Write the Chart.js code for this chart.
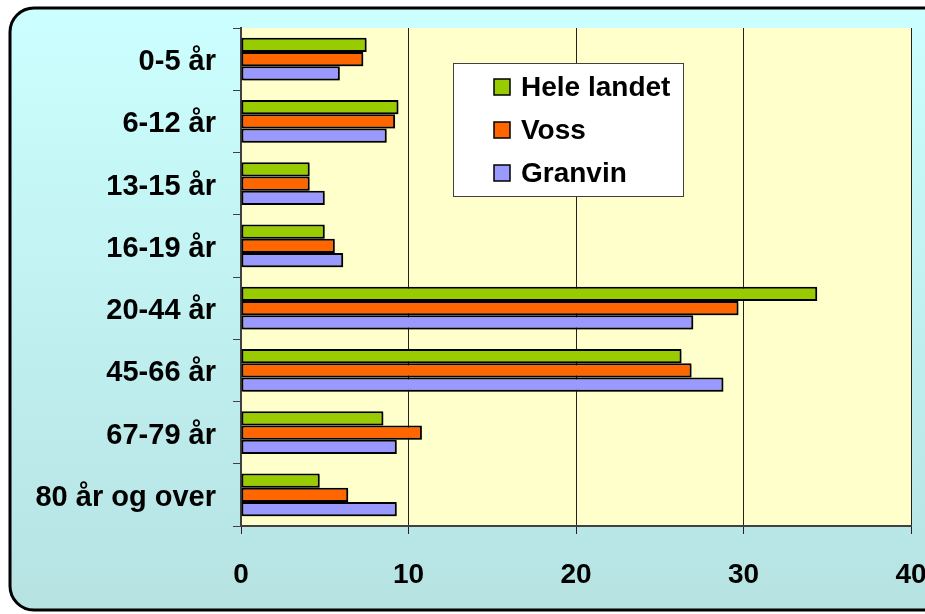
<!DOCTYPE html>
<html>
<head>
<meta charset="utf-8">
<script src="https://cdn.jsdelivr.net/npm/chart.js@4.4.1/dist/chart.umd.min.js"></script>
<style>
  html, body { margin: 0; padding: 0; background: #fff; }
  #wrap { width: 925px; height: 614px; }
</style>
</head>
<body>
<div id="wrap"><canvas id="ageChart" width="925" height="614"></canvas></div>
<script>
// Age groups and shares (%)
const categories = ['0-5 år', '6-12 år', '13-15 år', '16-19 år', '20-44 år', '45-66 år', '67-79 år', '80 år og over'];
const heleLandet = [7.5, 9.4, 4.1, 5.0, 34.4, 26.3, 8.5, 4.7];
const voss = [7.3, 9.2, 4.1, 5.6, 29.7, 26.9, 10.8, 6.4];
const granvin = [5.9, 8.7, 5.0, 6.1, 27.0, 28.8, 9.3, 9.3];
const seriesNames = ['Hele landet', 'Voss', 'Granvin'];
const xTicks = [0, 10, 20, 30, 40];

const FONT = 'Liberation Sans, Arial, sans-serif';

// gradient panel with rounded black frame, yellow plot area
const backgroundPlugin = {
    id: 'panel',
    beforeDraw(chart) {
        const ctx = chart.ctx;
        const a = chart.chartArea;
        ctx.save();
        ctx.fillStyle = '#ffffff';
        ctx.fillRect(0, 0, chart.width, chart.height);
        const g = ctx.createLinearGradient(0, 8, 0, 610);
        g.addColorStop(0, '#ccffff');
        g.addColorStop(1, '#b6e2e2');
        ctx.beginPath();
        ctx.roundRect(10, 8, 945, 602, 24);
        ctx.fillStyle = g;
        ctx.fill();
        ctx.lineWidth = 3;
        ctx.strokeStyle = '#000';
        ctx.stroke();
        ctx.fillStyle = '#ffffcc';
        ctx.fillRect(a.left, a.top, a.right - a.left, a.bottom - a.top);
        ctx.restore();
    },
    beforeDatasetsDraw(chart) {
        const ctx = chart.ctx;
        ctx.save();
        ctx.shadowColor = 'rgba(0,0,0,0.3)';
        ctx.shadowOffsetX = 2;
        ctx.shadowOffsetY = 2;
        ctx.shadowBlur = 0;
    },
    afterDatasetsDraw(chart) {
        chart.ctx.restore();
    }
};

// boxed legend inside the plot
const legendBoxPlugin = {
    id: 'legendBox',
    afterDraw(chart) {
        const ctx = chart.ctx;
        const x = 453, y = 63, w = 230, h = 133;
        ctx.save();
        ctx.fillStyle = '#ffffff';
        ctx.fillRect(x, y, w, h);
        ctx.strokeStyle = '#404040';
        ctx.lineWidth = 1;
        ctx.strokeRect(x + 0.5, y + 0.5, w, h);
        ctx.font = 'bold 28px ' + FONT;
        ctx.textBaseline = 'middle';
        chart.data.datasets.forEach((ds, i) => {
            const cy = 87 + i * 43;
            ctx.fillStyle = ds.backgroundColor;
            ctx.fillRect(494, cy - 8, 16, 16);
            ctx.strokeStyle = '#000';
            ctx.lineWidth = 1.5;
            ctx.strokeRect(494, cy - 8, 16, 16);
            ctx.fillStyle = '#000';
            ctx.fillText(ds.label, 521, cy + 1);
        });
        ctx.restore();
    }
};

const ctx = document.getElementById('ageChart');
new Chart(ctx, {
    type: 'bar',
    data: {
        labels: categories,
        datasets: [
            { label: seriesNames[0], data: heleLandet, backgroundColor: '#99cc00' },
            { label: seriesNames[1], data: voss, backgroundColor: '#ff6600' },
            { label: seriesNames[2], data: granvin, backgroundColor: '#9999ff' }
        ]
    },
    options: {
        indexAxis: 'y',
        responsive: false,
        animation: false,
        devicePixelRatio: 1,
        layout: { padding: { top: 28, right: 14, bottom: 0, left: 0 } },
        datasets: {
            bar: {
                borderColor: '#000',
                borderWidth: 2,
                borderSkipped: false,
                categoryPercentage: 0.69,
                barPercentage: 1.0
            }
        },
        plugins: {
            legend: { display: false },
            tooltip: { enabled: false }
        },
        scales: {
            x: {
                min: 0,
                max: 40,
                afterFit(scale) {
                    scale.height = 88;
                    scale.paddingLeft = 0;
                    scale.paddingRight = 0;
                },
                afterBuildTicks(scale) { scale.ticks = xTicks.map(v => ({ value: v })); },
                border: { color: '#404040', width: 2 },
                grid: { color: '#222', lineWidth: 1, tickLength: 8 },
                ticks: {
                    color: '#000',
                    padding: 24,
                    font: { family: FONT, size: 28, weight: 'bold' }
                }
            },
            y: {
                afterFit(scale) {
                    scale.width = 241;
                    scale.paddingTop = 0;
                    scale.paddingBottom = 0;
                },
                border: { color: '#404040', width: 2 },
                grid: { drawOnChartArea: false, color: '#404040', tickLength: 8 },
                ticks: {
                    color: '#000',
                    padding: 17,
                    labelOffset: 3,
                    font: { family: FONT, size: 29, weight: 'bold' }
                }
            }
        }
    },
    plugins: [backgroundPlugin, legendBoxPlugin]
});
</script>
</body>
</html>
